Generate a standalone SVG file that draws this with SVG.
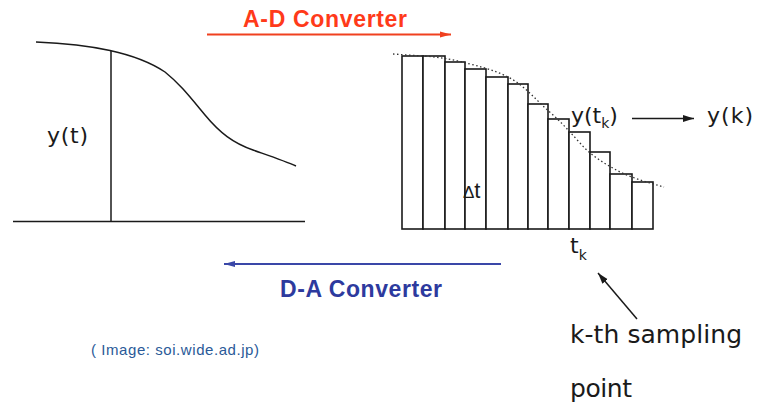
<svg xmlns="http://www.w3.org/2000/svg" width="757" height="404" viewBox="0 0 757 404">
<style>
.ink{fill:none;stroke:#1a1a1a;stroke-width:1.5}
.bar{fill:#fff;stroke:#1a1a1a;stroke-width:1.6}
.lbl{font-family:"DejaVu Sans","Liberation Sans",Arial,sans-serif;fill:#1a1a1a}
.bold{font-family:"Liberation Sans",Arial,sans-serif;font-weight:bold}
</style>
<defs>
<marker id="mRed" markerUnits="userSpaceOnUse" markerWidth="12" markerHeight="8" refX="11" refY="4" orient="auto"><path d="M0,1 L11,4 L0,7 z" fill="#f0401f"/></marker>
<marker id="mBlue" markerUnits="userSpaceOnUse" markerWidth="12" markerHeight="8" refX="11" refY="4" orient="auto"><path d="M0,1 L11,4 L0,7 z" fill="#3a47a8"/></marker>
<marker id="mBlk" markerUnits="userSpaceOnUse" markerWidth="12" markerHeight="8" refX="11" refY="4" orient="auto"><path d="M0,0.5 L11,4 L0,7.5 z" fill="#1a1a1a"/></marker>
</defs>
<rect width="757" height="404" fill="#fff"/>

<g id="analog-signal">
<line class="ink" x1="13" y1="221.5" x2="305" y2="221.5"/>
<line class="ink" x1="111" y1="51" x2="111" y2="221.5"/>
<path class="ink" stroke-width="1.3" d="M36,42 C60,43 85,45 110,50.5 C135,56 150,62 165,72 C180,84 190,97 205,115 C220,133 233,143 253,150 C270,156 285,161 296,166"/>
<text class="lbl" x="47" y="143" font-size="22" textLength="41">y(t)</text>
</g>

<g id="sampled-signal">
<rect class="bar" x="402" y="56" width="21" height="173"/>
<rect class="bar" x="423" y="56" width="22" height="173"/>
<rect class="bar" x="445" y="62" width="20" height="167"/>
<rect class="bar" x="465" y="69" width="21" height="160"/>
<rect class="bar" x="486" y="77" width="22" height="152"/>
<rect class="bar" x="508" y="84" width="20" height="145"/>
<rect class="bar" x="528" y="104" width="20" height="125"/>
<rect class="bar" x="548" y="119" width="21" height="110"/>
<rect class="bar" x="569" y="132" width="21" height="97"/>
<rect class="bar" x="590" y="152" width="20" height="77"/>
<rect class="bar" x="610" y="174" width="22" height="55"/>
<rect class="bar" x="632" y="182" width="21" height="47"/>
<path fill="none" stroke="#333" stroke-width="1.3" stroke-dasharray="1.5 2.5" d="M393,54 L423,56 C440,57 455,60 470,64 C490,69 505,74 518,83 C530,92 540,104 552,114 C562,123 570,132 580,143 C590,155 605,164 620,172 C635,179 650,183 664,187"/>
<text x="463" y="198" font-family="Liberation Sans,Arial,sans-serif" fill="#1a1a1a"><tspan font-size="17">Δ</tspan><tspan font-size="22">t</tspan></text>
<text class="lbl" x="571" y="123" font-size="22">y(t<tspan font-size="14" dy="5">k</tspan><tspan dy="-5">)</tspan></text>
<text class="lbl" x="570" y="253" font-size="22">t<tspan font-size="14" dy="7">k</tspan></text>
</g>

<g id="output">
<text class="lbl" x="707" y="123" font-size="22" textLength="46">y(k)</text>
</g>

<g id="ad-label">
<text class="bold" x="243" y="27" font-size="23" fill="#ff3a1a" textLength="164">A-D Converter</text>
</g>
<g id="da-label">
<text class="bold" x="280" y="297" font-size="23" fill="#2d3a9e" textLength="162">D-A Converter</text>
</g>
<g id="sampling-label">
<text class="lbl" x="570" y="343" font-size="25" textLength="172">k-th sampling</text>
<text class="lbl" x="570" y="397" font-size="25" textLength="62">point</text>
</g>
<g id="caption">
<text x="91" y="355" font-family="Liberation Sans,Arial,sans-serif" font-size="15" fill="#2a5a98" textLength="168">( Image: soi.wide.ad.jp)</text>
</g>

<g id="connectors">
<line x1="207" y1="34.5" x2="451" y2="34.5" stroke="#f0401f" stroke-width="2" marker-end="url(#mRed)"/>
<line x1="501" y1="264" x2="224" y2="264" stroke="#3a47a8" stroke-width="2" marker-end="url(#mBlue)"/>
<line x1="632" y1="118.5" x2="694" y2="118.5" stroke="#1a1a1a" stroke-width="1.5" marker-end="url(#mBlk)"/>
<line x1="637" y1="319" x2="598" y2="273" stroke="#1a1a1a" stroke-width="1.5" marker-end="url(#mBlk)"/>
</g>
</svg>
